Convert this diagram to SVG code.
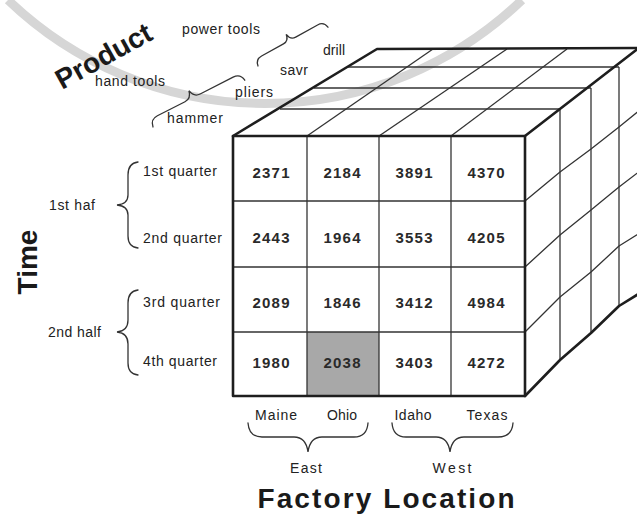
<svg xmlns="http://www.w3.org/2000/svg" width="637" height="514" viewBox="0 0 637 514">
<style>
.lbl{font-family:"Liberation Sans",Arial,sans-serif;font-size:14px;fill:#222}
.mid{text-anchor:middle}
.num{font-family:"Liberation Sans",Arial,sans-serif;font-size:15px;font-weight:bold;fill:#2a2a2a;text-anchor:middle}
.title{font-family:"Liberation Sans",Arial,sans-serif;font-weight:bold;fill:#1a1a1a}
.thick{stroke:#1e1e1e;stroke-width:2.6;fill:none;stroke-linejoin:round;stroke-linecap:round}
.thin{stroke:#333;stroke-width:1.3;fill:none;stroke-linejoin:round}
.brace{stroke:#333;stroke-width:1.3;fill:none;stroke-linecap:round}
.wm{fill:none;stroke:#d6d6d6}
</style>
<rect width="637" height="514" fill="#ffffff"/>
<g id="watermark">
<path class="wm" stroke-width="9" d="M8,0 A371,371 0 0 0 522,0"/>
</g>
<g id="cube">
<rect x="307" y="332" width="72" height="64" fill="#a8a8a8"/>
<g id="front-grid" class="thin">
<line x1="307" y1="136" x2="307" y2="396"/>
<line x1="379" y1="136" x2="379" y2="396"/>
<line x1="451" y1="136" x2="451" y2="396"/>
<line x1="233" y1="201" x2="525" y2="201"/>
<line x1="233" y1="267" x2="525" y2="267"/>
<line x1="233" y1="332" x2="525" y2="332"/>
</g>
<g id="top-grid" class="thin">
<line x1="280" y1="109" x2="560" y2="109"/>
<line x1="314" y1="88" x2="591" y2="88"/>
<line x1="347" y1="67" x2="619" y2="67"/>
<line x1="307" y1="136" x2="433" y2="49"/>
<line x1="379" y1="136" x2="507" y2="49"/>
<line x1="451" y1="136" x2="567" y2="49"/>
</g>
<g id="side-grid" class="thin">
<line x1="560" y1="109" x2="560" y2="360"/>
<line x1="591" y1="88" x2="591" y2="333"/>
<line x1="619" y1="67" x2="619" y2="306"/>
<polyline points="525,201 560,172 591,149 619,127 640,110"/>
<polyline points="525,267 560,235 591,210 619,187 640,171"/>
<polyline points="525,332 560,297 591,272 619,246 640,233"/>
</g>
<g id="outline" class="thick">
<rect x="233" y="136" width="292" height="260"/>
<polyline points="233,136 377,49 640,48"/>
<line x1="525" y1="136" x2="640" y2="47"/>
<polyline points="525,396 560,360 591,333 619,306 640,293"/>
</g>
</g>
<g id="values">
<text class="num" x="271" y="178" textLength="37">2371</text>
<text class="num" x="342" y="178" textLength="37">2184</text>
<text class="num" x="414" y="178" textLength="37">3891</text>
<text class="num" x="486" y="178" textLength="37">4370</text>
<text class="num" x="271" y="243" textLength="37">2443</text>
<text class="num" x="342" y="243" textLength="37">1964</text>
<text class="num" x="414" y="243" textLength="37">3553</text>
<text class="num" x="486" y="243" textLength="37">4205</text>
<text class="num" x="271" y="308" textLength="37">2089</text>
<text class="num" x="342" y="308" textLength="37">1846</text>
<text class="num" x="414" y="308" textLength="37">3412</text>
<text class="num" x="486" y="308" textLength="37">4984</text>
<text class="num" x="271" y="368" textLength="37">1980</text>
<text class="num" x="342" y="368" textLength="37">2038</text>
<text class="num" x="414" y="368" textLength="37">3403</text>
<text class="num" x="486" y="368" textLength="37">4272</text>
</g>
<g id="time-axis">
<text class="title" font-size="28" text-anchor="middle" transform="translate(37,262) rotate(-90)">Time</text>
<text class="lbl" x="49" y="210" textLength="46">1st haf</text>
<text class="lbl" x="48" y="337" textLength="53">2nd half</text>
<text class="lbl" x="143" y="176" textLength="74">1st quarter</text>
<text class="lbl" x="143" y="243" textLength="79">2nd quarter</text>
<text class="lbl" x="143" y="307" textLength="77">3rd quarter</text>
<text class="lbl" x="143" y="366" textLength="74">4th quarter</text>
<path class="brace" d="M138,162 Q128,163 128,175 L128,195 Q128,204 117,205 Q128,206 128,215 L128,236 Q128,247 138,248"/>
<path class="brace" d="M138,290 Q128,291 128,303 L128,320 Q128,331 117,332 Q128,333 128,344 L128,363 Q128,374 138,375"/>
</g>
<g id="location-axis">
<text class="lbl mid" x="276" y="420" textLength="42">Maine</text>
<text class="lbl mid" x="342" y="420" textLength="30">Ohio</text>
<text class="lbl mid" x="413" y="420" textLength="37">Idaho</text>
<text class="lbl mid" x="487" y="420" textLength="41">Texas</text>
<path class="brace" d="M248,423 Q249,437 262,437 L294,437 Q306,437 308,452 Q310,437 322,437 L354,437 Q367,437 368,423"/>
<path class="brace" d="M392,423 Q393,437 406,437 L436,437 Q448,437 450,452 Q452,437 464,437 L498,437 Q512,437 513,423"/>
<text class="lbl mid" x="306" y="473" textLength="32">East</text>
<text class="lbl mid" x="452" y="473" textLength="39">West</text>
<text class="title" font-size="28" text-anchor="middle" x="386" y="508" textLength="257">Factory Location</text>
</g>
<g id="product-axis">
<text class="title" font-size="28" transform="translate(62,90) rotate(-29)">Product</text>
<text class="lbl" x="182" y="34" textLength="78">power tools</text>
<text class="lbl" x="95" y="86" textLength="70">hand tools</text>
<text class="lbl" x="167" y="123" textLength="56">hammer</text>
<text class="lbl" x="235" y="97" textLength="38">pliers</text>
<text class="lbl" x="280" y="75" textLength="28">savr</text>
<text class="lbl" x="323" y="55" textLength="22">drill</text>
<path class="brace" transform="translate(153,127) rotate(-27)" d="M0,0 Q1,-8 9,-8 L40,-8 Q47,-8 48.5,-16 Q50,-8 57,-8 L94,-8 Q102,-8 103,0"/>
<path class="brace" transform="translate(258,66) rotate(-29)" d="M0,0 Q1,-7 8,-7 L33,-7 Q39,-7 40,-14 Q41,-7 47,-7 L72,-7 Q79,-7 80,0"/>
</g>
</svg>
